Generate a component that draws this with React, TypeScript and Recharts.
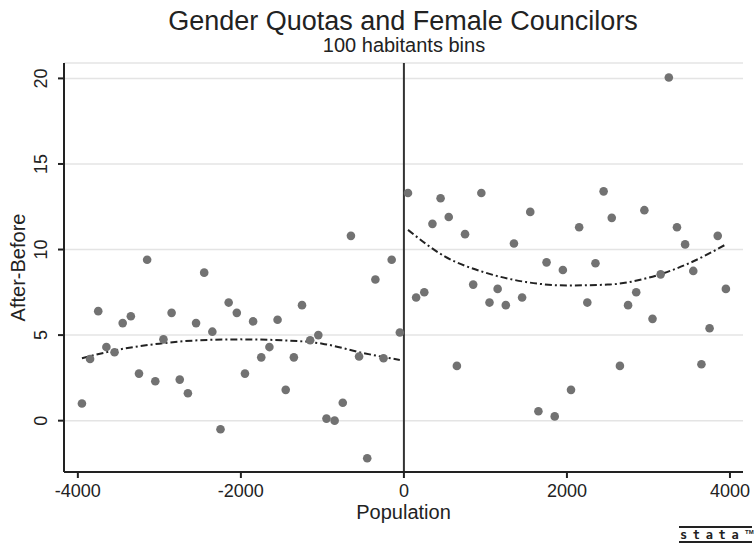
import {
  CartesianGrid,
  ComposedChart,
  Customized,
  Label,
  Line,
  ReferenceLine,
  Scatter,
  XAxis,
  YAxis,
} from "recharts";

// 100 habitant bins, left and right of the threshold
const BINS_LEFT = [
  -3950, -3850, -3750, -3650, -3550, -3450, -3350, -3250, -3150, -3050,
  -2950, -2850, -2750, -2650, -2550, -2450, -2350, -2250, -2150, -2050,
  -1950, -1850, -1750, -1650, -1550, -1450, -1350, -1250, -1150, -1050,
  -950, -850, -750, -650, -550, -450, -350, -250, -150, -50,
];
const DIFF_LEFT = [
  1.0, 3.6, 6.4, 4.3, 4.0, 5.7, 6.1, 2.75, 9.4, 2.3,
  4.75, 6.3, 2.4, 1.6, 5.7, 8.65, 5.2, -0.5, 6.9, 6.3,
  2.75, 5.8, 3.7, 4.3, 5.9, 1.8, 3.7, 6.75, 4.7, 5.0,
  0.12, 0.0, 1.05, 10.8, 3.75, -2.2, 8.25, 3.65, 9.4, 5.15,
];
const BINS_RIGHT = [
  50, 150, 250, 350, 450, 550, 650, 750, 850, 950,
  1050, 1150, 1250, 1350, 1450, 1550, 1650, 1750, 1850, 1950,
  2050, 2150, 2250, 2350, 2450, 2550, 2650, 2750, 2850, 2950,
  3050, 3150, 3250, 3350, 3450, 3550, 3650, 3750, 3850, 3950,
];
const DIFF_RIGHT = [
  13.3, 7.2, 7.5, 11.5, 13.0, 11.9, 3.2, 10.9, 7.95, 13.3,
  6.9, 7.7, 6.75, 10.35, 7.2, 12.2, 0.55, 9.25, 0.25, 8.8,
  1.8, 11.3, 6.9, 9.2, 13.4, 11.85, 3.2, 6.75, 7.5, 12.3,
  5.95, 8.55, 20.05, 11.3, 10.3, 8.75, 3.3, 5.4, 10.8, 7.7,
];

// quadratic fit curves
const FIT_LEFT_X = [-3950, -3500, -3000, -2500, -2000, -1500, -1000, -500, -50];
const FIT_LEFT_Y = [3.65, 4.15, 4.5, 4.7, 4.75, 4.7, 4.5, 3.95, 3.55];
const FIT_RIGHT_X = [50, 500, 1000, 1500, 2000, 2500, 3000, 3500, 3950];
const FIT_RIGHT_Y = [11.15, 9.6, 8.65, 8.1, 7.9, 7.95, 8.35, 9.2, 10.3];

const X_TICKS = [-4000, -2000, 0, 2000, 4000];
const Y_TICKS = [0, 5, 10, 15, 20];

const FONT = '"Liberation Sans", Arial, Helvetica, sans-serif';
const INK = "#222";
const DOT = "#727272";

const points = [
  ...BINS_LEFT.map((x, i) => ({ x, y: DIFF_LEFT[i] })),
  ...BINS_RIGHT.map((x, i) => ({ x, y: DIFF_RIGHT[i] })),
];
const fitLeft = FIT_LEFT_X.map((x, i) => ({ x, y: FIT_LEFT_Y[i] }));
const fitRight = FIT_RIGHT_X.map((x, i) => ({ x, y: FIT_RIGHT_Y[i] }));

const W = 754;
const H = 546;

// y tick labels are vertical in Stata
function VerticalTick({ x, y, payload }: any) {
  return (
    <text
      x={x}
      y={y}
      transform={`rotate(-90 ${x} ${y})`}
      textAnchor="middle"
      fill={INK}
      fontSize={18}
      fontFamily={FONT}
    >
      {payload.value}
    </text>
  );
}

function Titles() {
  return (
    <g fontFamily={FONT} fill={INK}>
      <text x={403} y={30} textAnchor="middle" fontSize={27}>
        Gender Quotas and Female Councilors
      </text>
      <text x={404} y={52} textAnchor="middle" fontSize={20}>
        100 habitants bins
      </text>
      {/* stata logo */}
      <line x1={679} x2={752} y1={527} y2={527} stroke={INK} strokeWidth={2} />
      <text
        x={680}
        y={539}
        fontSize={12}
        fontWeight="bold"
        fontFamily='"DejaVu Sans Mono", monospace'
        letterSpacing={3.4}
        textLength={62}
      >
        stata
      </text>
      <text x={745} y={534} fontSize={6} fontWeight="bold">
        TM
      </text>
      <line x1={679} x2={752} y1={542} y2={542} stroke={INK} strokeWidth={2} />
    </g>
  );
}

export default function App() {
  return (
    <div
      style={{
        position: "absolute",
        left: 0,
        top: 0,
        width: W,
        height: H,
        background: "#fff",
      }}
    >
      <ComposedChart
        width={W}
        height={H}
        data={points}
        margin={{ top: 63, right: 11, bottom: 0, left: 0 }}
      >
        <CartesianGrid
          vertical={false}
          stroke="#e4e4e4"
          strokeWidth={1.5}
        />
        <XAxis
          dataKey="x"
          type="number"
          domain={[-4170, 4160]}
          ticks={X_TICKS}
          allowDataOverflow
          height={74}
          stroke={INK}
          strokeWidth={2}
          tickSize={6}
          tickMargin={6}
          tick={{ fill: INK, fontSize: 18, fontFamily: FONT }}
        >
          <Label
            content={({ viewBox }: any) => (
              <text
                x={viewBox.x + viewBox.width / 2}
                y={viewBox.y + 47}
                textAnchor="middle"
                fill={INK}
                fontSize={20}
                fontFamily={FONT}
              >
                Population
              </text>
            )}
          />
        </XAxis>
        <YAxis
          dataKey="y"
          type="number"
          domain={[-3, 20.9]}
          ticks={Y_TICKS}
          allowDataOverflow
          width={64}
          stroke={INK}
          strokeWidth={2}
          tickSize={6}
          tickMargin={11}
          tick={<VerticalTick />}
        >
          <Label
            content={({ viewBox }: any) => {
              const cx = 25;
              const cy = viewBox.y + viewBox.height / 2;
              return (
                <text
                  x={cx}
                  y={cy}
                  transform={`rotate(-90 ${cx} ${cy})`}
                  textAnchor="middle"
                  fill={INK}
                  fontSize={20}
                  fontFamily={FONT}
                >
                  After-Before
                </text>
              );
            }}
          />
        </YAxis>
        <ReferenceLine x={0} stroke="#333" strokeWidth={2} />
        <Scatter
          data={points}
          dataKey="y"
          fill={DOT}
          shape={(p: any) => <circle cx={p.cx} cy={p.cy} r={4.3} fill={DOT} />}
          isAnimationActive={false}
        />
        <Line
          data={fitLeft}
          dataKey="y"
          type="monotone"
          stroke={INK}
          strokeWidth={2}
          strokeDasharray="7 3 2 3"
          dot={false}
          activeDot={false}
          isAnimationActive={false}
        />
        <Line
          data={fitRight}
          dataKey="y"
          type="monotone"
          stroke={INK}
          strokeWidth={2}
          strokeDasharray="7 3 2 3"
          dot={false}
          activeDot={false}
          isAnimationActive={false}
        />
        <Customized component={Titles} />
      </ComposedChart>
    </div>
  );
}
